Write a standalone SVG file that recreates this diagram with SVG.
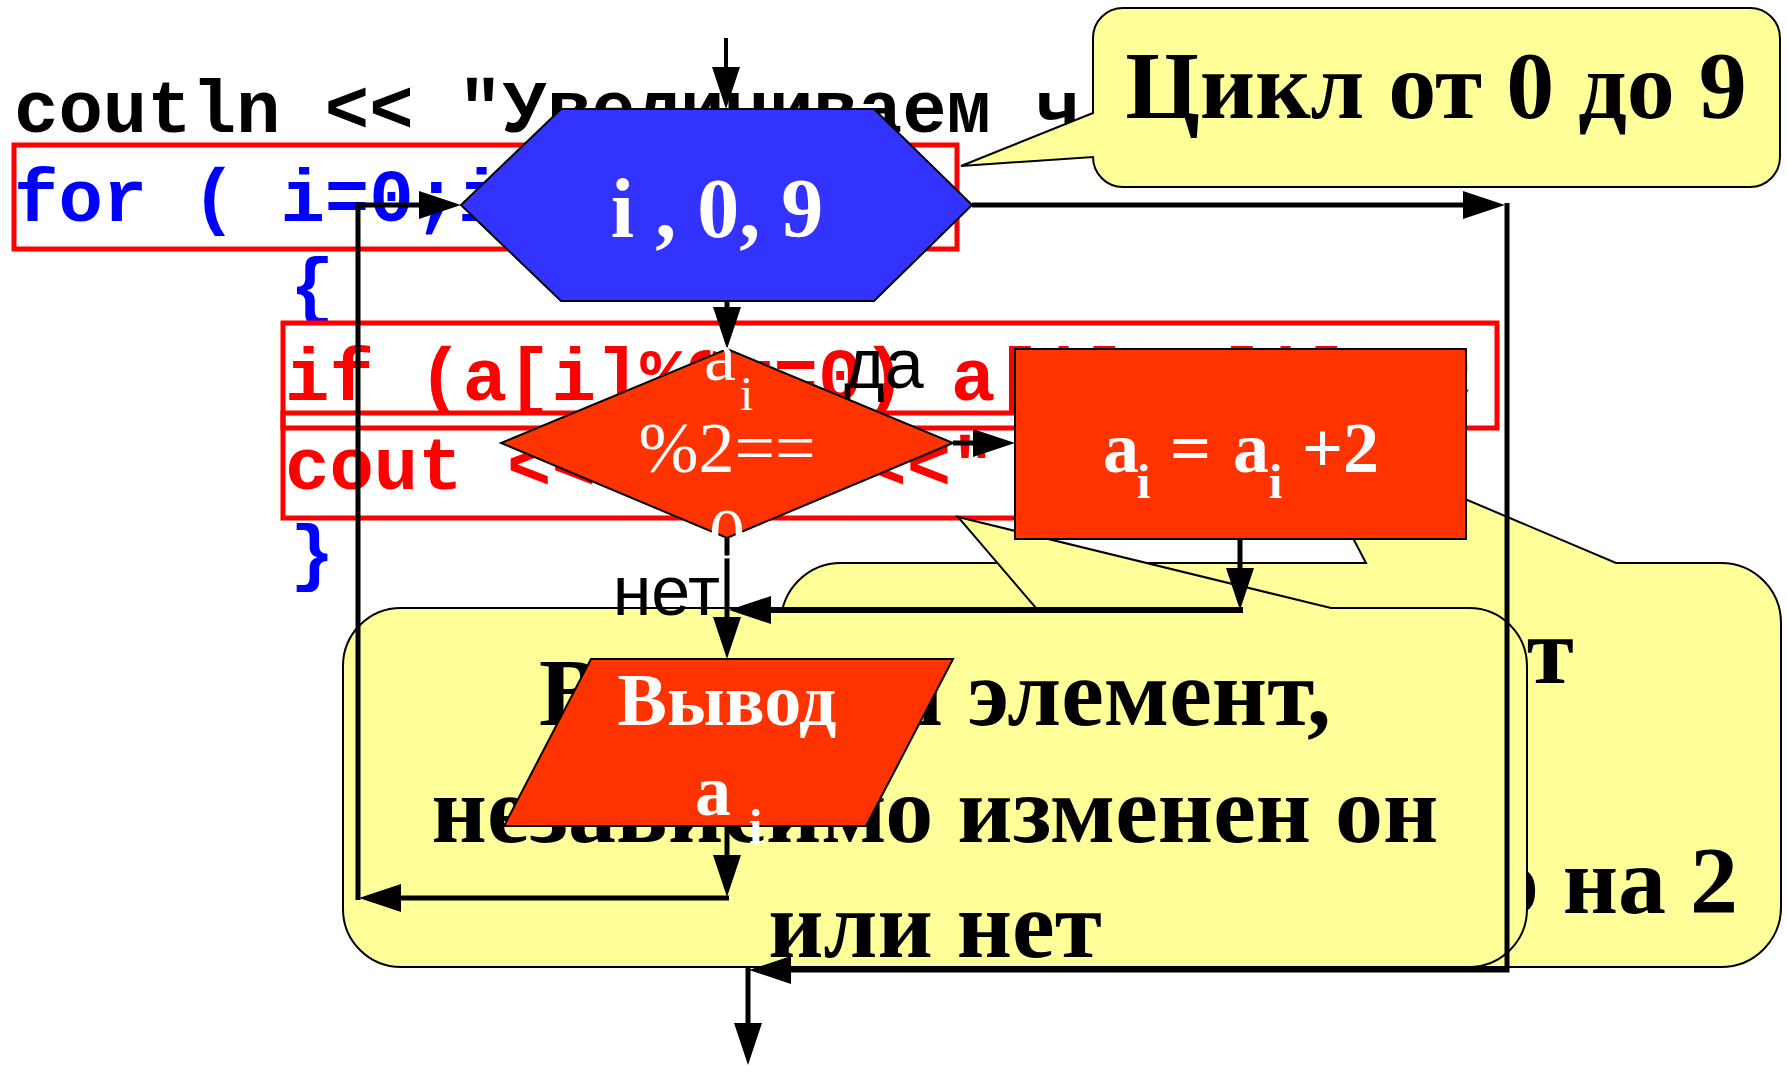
<svg xmlns="http://www.w3.org/2000/svg" width="1787" height="1074" viewBox="0 0 1787 1074">
<style>
.code{font-family:"Liberation Mono","Courier New",monospace;font-weight:bold;font-size:74px}
.cbox{fill:none;stroke:#FF0000;stroke-width:5}
.call{fill:#FFFF99;stroke:#000;stroke-width:2}
.ct{font-family:"Liberation Serif","Times New Roman",serif;font-weight:bold;font-size:96px;fill:#000}
.wt{font-family:"Liberation Serif","Times New Roman",serif;fill:#FFFFFF}
.lbl{font-family:"Liberation Sans",Arial,sans-serif;font-size:70px;fill:#000}
.ln{fill:none;stroke:#000;stroke-width:5;marker-end:url(#ah)}
.shape{stroke:#000;stroke-width:2}
</style>
<defs>
<marker id="ah" markerUnits="userSpaceOnUse" markerWidth="42" markerHeight="28" refX="33" refY="14" orient="auto" viewBox="0 0 42 28">
<path d="M0,0 L42,14 L0,28 Z" fill="#000"/>
</marker>
</defs>
<rect width="1787" height="1074" fill="#FFFFFF"/>
<g id="code">
<text class="code" x="14" y="132" fill="#000">coutln &lt;&lt; "Увеличиваем ч</text>
<text class="code" x="14" y="221" fill="#0000FF">for ( i=0;i&lt;10;i++)</text>
<text class="code" x="290" y="310" fill="#0000FF">{</text>
<text class="code" x="285" y="400" fill="#FF0000">if (a[i]%2==0) a[i]=a[i]+2;</text>
<text class="code" x="285" y="489" fill="#FF0000">cout &lt;&lt; a[i] &lt;&lt;" ";</text>
<text class="code" x="290" y="577" fill="#0000FF">}</text>
<rect class="cbox" x="14" y="145" width="943" height="104"/>
<rect class="cbox" x="283" y="323" width="1214" height="105"/>
<rect class="cbox" x="283" y="413" width="920" height="105"/>
</g>
<g id="callout-increase">
<path class="call" d="M841,563 H1366 L1295,427 L1616,563 H1721 A60,60 0 0 1 1781,623 V907 A60,60 0 0 1 1721,967 H841 A60,60 0 0 1 781,907 V623 A60,60 0 0 1 841,563 Z"/>
<text class="ct" x="1574" y="683" text-anchor="end">т</text>
<text class="ct" x="1738" y="913" text-anchor="end">о на 2</text>
</g>
<g id="callout-output">
<path class="call" d="M401,608 H1036 L958,517 L1331,608 H1469 A58,58 0 0 1 1527,666 V909 A58,58 0 0 1 1469,967 H401 A58,58 0 0 1 343,909 V666 A58,58 0 0 1 401,608 Z"/>
<text class="ct" text-anchor="middle"><tspan x="935" y="725">Выводим элемент,</tspan><tspan x="935" y="842">независимо изменен он</tspan><tspan x="935" y="957">или нет</tspan></text>
</g>
<g id="connectors">
<path class="ln" style="stroke-width:4" d="M726,38 V100"/>
<path class="ln" d="M972,205 H1496"/>
<path class="ln" d="M1507,203 V970 H758"/>
<path class="ln" d="M748,968 V1056"/>
<path class="ln" d="M727,301 V340"/>
<path class="ln" d="M953,443 H1006"/>
<path class="ln" d="M1240,539 V601"/>
<path class="ln" style="stroke-width:6" d="M1243,610 H738"/>
<path class="ln" d="M727,538 V650"/>
<path class="ln" d="M727,826 V888"/>
<path class="ln" d="M729,898 H368"/>
<path class="ln" d="M358,900 V205 H452"/>
<text class="lbl" x="844" y="388">да</text>
<text class="lbl" x="720" y="615" text-anchor="end">нет</text>
</g>
<g id="loop">
<polygon class="shape" points="561,109 874,109 972,205 874,301 561,301 461,205" fill="#3333FF"/>
<text class="wt" x="717" y="237" font-size="84" font-weight="bold" text-anchor="middle">i , 0, 9</text>
</g>
<g id="condition">
<polygon class="shape" points="727,349 953,443 727,538 501,443" fill="#FF3300"/>
<text class="wt" font-size="72"><tspan x="704" y="380">a</tspan><tspan x="740" y="410" font-size="48">i</tspan></text>
<text class="wt" x="727" y="472" font-size="72" text-anchor="middle">%2==</text>
<text class="wt" x="727" y="558" font-size="72" text-anchor="middle">0</text>
</g>
<g id="increment">
<rect class="shape" x="1015" y="349" width="451" height="190" fill="#FF3300"/>
<text class="wt" font-size="72" font-weight="bold"><tspan x="1103" y="472">a</tspan><tspan x="1137" y="498" font-size="48">i</tspan><tspan x="1170" y="472">=</tspan><tspan x="1233" y="472">a</tspan><tspan x="1269" y="498" font-size="48">i</tspan><tspan x="1302" y="472">+2</tspan></text>
</g>
<g id="output">
<polygon class="shape" points="591,659 953,659 866,826 504,826" fill="#FF3300"/>
<text class="wt" x="727" y="725" font-size="74" font-weight="bold" text-anchor="middle">Вывод</text>
<text class="wt" font-size="72" font-weight="bold"><tspan x="695" y="815">a</tspan><tspan x="749" y="843" font-size="48">i</tspan></text>
</g>
<g id="callout-loop">
<path class="call" d="M1123,8 H1750 A30,30 0 0 1 1780,38 V157 A30,30 0 0 1 1750,187 H1123 A30,30 0 0 1 1093,157 L961,166 L1093,113 V38 A30,30 0 0 1 1123,8 Z"/>
<text class="ct" x="1436" y="118" text-anchor="middle">Цикл от 0 до 9</text>
</g>
</svg>
